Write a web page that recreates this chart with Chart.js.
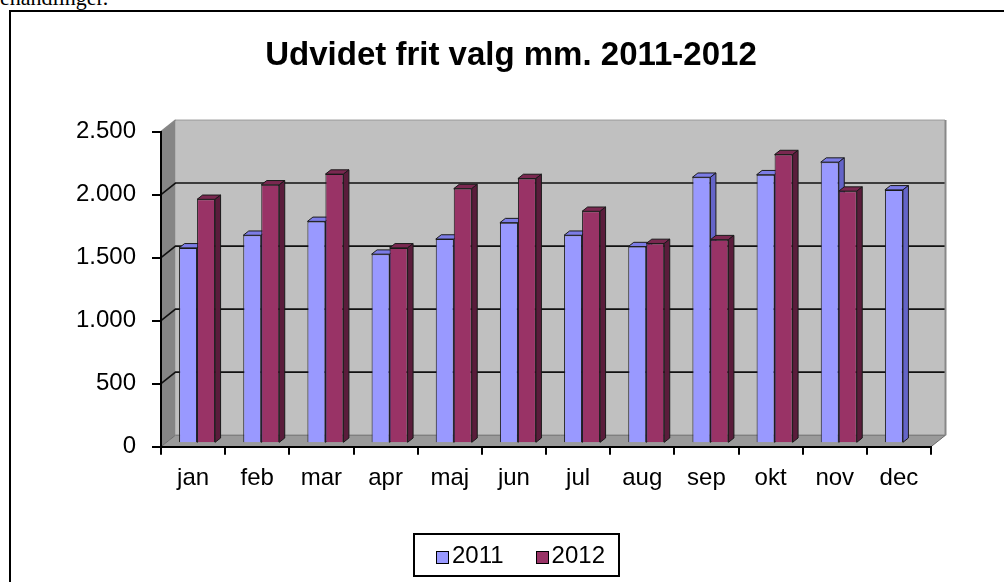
<!DOCTYPE html>
<html>
<head>
<meta charset="utf-8">
<script src="https://cdn.jsdelivr.net/npm/chart.js@4/dist/chart.umd.min.js"></script>
<style>
  html, body { margin: 0; padding: 0; background: #fff; width: 1004px; height: 582px; overflow: hidden; position: relative; }
  #prevtext { position: absolute; left: -11px; top: -13.4px; font: 22px 'Liberation Serif', 'Times New Roman', serif; line-height: 22px; white-space: nowrap; color: #000; }
  #frame { position: absolute; left: 9px; top: 10px; width: 1100px; height: 700px; border: 2px solid #000; box-sizing: border-box; }
  #c { position: absolute; left: 0; top: 0; }
  #legend { position: absolute; left: 413px; top: 533px; width: 207px; height: 44px; border: 2px solid #000; box-sizing: border-box; display: flex; align-items: center; padding-left: 21px; font: 24px 'Liberation Sans', Arial, sans-serif; line-height: 24px; color: #000; }
  #legend .item { display: flex; align-items: center; margin-right: 32px; }
  #legend .sw { width: 11px; height: 11px; border: 1px solid #000; margin-right: 3px; position: relative; top: 2px; }
</style>
</head>
<body>
<div id="prevtext">behandlinger.</div>
<div id="frame"></div>
<canvas id="c" width="1004" height="582"></canvas>
<div id="legend"></div>
<script>
// ---- data ----
const categories = ['jan','feb','mar','apr','maj','jun','jul','aug','sep','okt','nov','dec'];
const values2011 = [1550, 1650, 1760, 1500, 1620, 1750, 1650, 1560, 2110, 2130, 2230, 2010];
const values2012 = [1935, 2050, 2135, 1550, 2020, 2100, 1840, 1585, 1615, 2290, 2000, null];
const seriesNames = ['2011', '2012'];
const yTickValues = [0, 500, 1000, 1500, 2000, 2500];
const titleText = 'Udvidet frit valg mm. 2011-2012';

// ---- styles ----
const frontColors = ['#9999ff', '#993366'];
const topColors   = ['#7c7ce6', '#7a2850'];
const sideColors  = ['#6464c8', '#5a1c3b'];
const DX = 14.5, DY = -11.5;          // depth of plot box
const SHIFT_X = 4, SHIFT_Y = -3.4;    // bars sit a bit behind the front plane
const BDX = 5.5, BDY = -4.3;          // bar depth
const TITLE_LEFT = 91, TITLE_RIGHT = 931;

const fmt = v => String(v).replace(/\B(?=(\d{3})+(?!\d))/g, '.');
Chart.defaults.font.family = "'Liberation Sans', Arial, sans-serif";
Chart.defaults.color = '#000';

function poly(ctx, pts, fill, stroke) {
  ctx.beginPath();
  ctx.moveTo(pts[0][0], pts[0][1]);
  for (let i = 1; i < pts.length; i++) ctx.lineTo(pts[i][0], pts[i][1]);
  ctx.closePath();
  if (fill) { ctx.fillStyle = fill; ctx.fill(); }
  if (stroke) { ctx.strokeStyle = stroke; ctx.stroke(); }
}

const box3d = {
  id: 'box3d',
  afterLayout(chart) {
    const t = chart.titleBlock;
    if (t) { t.left = TITLE_LEFT; t.right = TITLE_RIGHT; t.width = TITLE_RIGHT - TITLE_LEFT; }
  },
  beforeDraw(chart) {
    const {ctx, chartArea: a, scales: {y}} = chart;
    ctx.save();
    // back wall
    ctx.fillStyle = '#c0c0c0';
    ctx.fillRect(a.left + DX, a.top + DY, a.right - a.left, a.bottom - a.top);
    // side wall
    poly(ctx, [[a.left, a.bottom], [a.left, a.top], [a.left + DX, a.top + DY], [a.left + DX, a.bottom + DY]], '#858585');
    // floor
    ctx.lineWidth = 1;
    poly(ctx, [[a.left, a.bottom], [a.right, a.bottom], [a.right + DX, a.bottom + DY], [a.left + DX, a.bottom + DY]], '#9a9a9a', '#6a6a6a');
    // gridlines on side + back wall
    ctx.strokeStyle = '#111';
    ctx.lineWidth = 1.6;
    yTickValues.forEach(v => {
      if (v === 0 || v === y.max) return;
      const yy = y.getPixelForValue(v);
      ctx.beginPath();
      ctx.moveTo(a.left, yy);
      ctx.lineTo(a.left + DX, yy + DY);
      ctx.lineTo(a.right + DX, yy + DY);
      ctx.stroke();
    });
    // back wall right edge
    ctx.strokeStyle = '#888';
    ctx.lineWidth = 2;
    ctx.beginPath();
    ctx.moveTo(a.right + DX, a.bottom + DY);
    ctx.lineTo(a.right + DX, a.top + DY);
    ctx.stroke();
    // top edges
    ctx.lineWidth = 1.5;
    ctx.beginPath();
    ctx.moveTo(a.left, a.top);
    ctx.lineTo(a.left + DX, a.top + DY);
    ctx.stroke();
    ctx.setLineDash([1, 1]);
    ctx.beginPath();
    ctx.moveTo(a.left + DX, a.top + DY);
    ctx.lineTo(a.right + DX, a.top + DY);
    ctx.stroke();
    ctx.restore();
  },
  beforeDatasetsDraw(chart) {
    const ctx = chart.ctx;
    ctx.save();
    ctx.translate(SHIFT_X, SHIFT_Y);
    ctx.lineWidth = 1;
    ctx.lineJoin = 'round';
    chart.data.datasets.forEach((ds, di) => {
      const meta = chart.getDatasetMeta(di);
      meta.data.forEach((bar, i) => {
        if (ds.data[i] == null) return;
        bar.draw(ctx);
        const {x, y, base, width} = bar.getProps(['x', 'y', 'base', 'width'], true);
        const l = x - width / 2, r = x + width / 2;
        poly(ctx, [[l, y], [r, y], [r + BDX, y + BDY], [l + BDX, y + BDY]], topColors[di], '#1a1a1a');
        poly(ctx, [[r, y], [r + BDX, y + BDY], [r + BDX, base + BDY], [r, base]], sideColors[di], '#1a1a1a');
      });
    });
    ctx.restore();
    return false;
  }
};

const chart = new Chart(document.getElementById('c'), {
  type: 'bar',
  data: {
    labels: categories,
    datasets: [
      { label: seriesNames[0], data: values2011, backgroundColor: frontColors[0] },
      { label: seriesNames[1], data: values2012, backgroundColor: frontColors[1] }
    ]
  },
  options: {
    responsive: false,
    animation: false,
    events: [],
    layout: { padding: { left: 30, right: 73, top: 0, bottom: 0 } },
    datasets: { bar: { categoryPercentage: 0.561, barPercentage: 1, borderWidth: 1, borderColor: '#1a1a1a' } },
    plugins: {
      legend: { display: false },
      tooltip: { enabled: false },
      title: {
        display: true,
        text: titleText,
        color: '#000',
        font: { size: 33, weight: 'bold' },
        padding: { top: 36.2, bottom: 55.7 }
      }
    },
    scales: {
      x: {
        grid: { display: true, drawOnChartArea: false, drawTicks: true, tickLength: 8, color: '#000', lineWidth: 2, offset: true },
        border: { display: true, color: '#000', width: 2 },
        ticks: { font: { size: 24 }, color: '#000', padding: 9, maxRotation: 0, autoSkip: false },
        afterFit(s) { s.height = 582 - 446.7; }
      },
      y: {
        min: 0, max: 2500,
        afterBuildTicks(s) { s.ticks = yTickValues.map(v => ({ value: v })); },
        grid: { display: true, drawOnChartArea: false, drawTicks: true, tickLength: 9, color: '#000', lineWidth: 2 },
        border: { display: true, color: '#000', width: 2 },
        ticks: { font: { size: 24 }, color: '#000', padding: 16, callback: v => fmt(v) },
        afterFit(s) { s.width = 161 - 30; }
      }
    }
  },
  plugins: [box3d]
});

// legend built from the same series arrays
const lg = document.getElementById('legend');
seriesNames.forEach((name, i) => {
  const it = document.createElement('div');
  it.className = 'item';
  const sw = document.createElement('span');
  sw.className = 'sw';
  sw.style.background = frontColors[i];
  const tx = document.createElement('span');
  tx.textContent = name;
  it.appendChild(sw); it.appendChild(tx);
  lg.appendChild(it);
});
</script>
</body>
</html>
